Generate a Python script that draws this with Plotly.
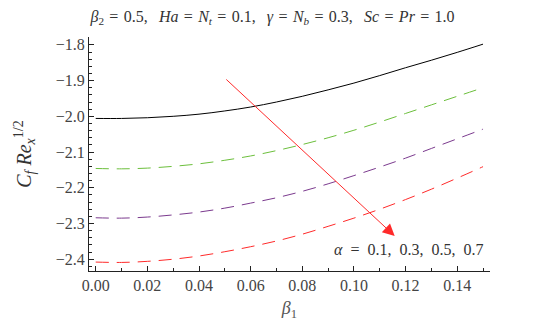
import plotly.graph_objects as go

beta1 = [0.00, 0.01, 0.02, 0.03, 0.04, 0.05, 0.06, 0.07, 0.08, 0.09, 0.10, 0.11, 0.12, 0.13, 0.14, 0.15]
cf_a01 = [-2.006, -2.006, -2.004, -2.000, -1.994, -1.985, -1.974, -1.960, -1.944, -1.926, -1.907, -1.886, -1.864, -1.843, -1.821, -1.798]
cf_a03 = [-2.146, -2.147, -2.145, -2.140, -2.133, -2.123, -2.111, -2.096, -2.079, -2.060, -2.039, -2.016, -1.992, -1.968, -1.944, -1.920]
cf_a05 = [-2.284, -2.285, -2.282, -2.276, -2.268, -2.257, -2.243, -2.228, -2.210, -2.189, -2.166, -2.142, -2.117, -2.090, -2.063, -2.036]
cf_a07 = [-2.408, -2.409, -2.406, -2.400, -2.391, -2.379, -2.365, -2.349, -2.330, -2.308, -2.285, -2.260, -2.233, -2.204, -2.173, -2.141]

series = [
    (cf_a01, "#000000", "solid"),
    (cf_a03, "#6cbf3c", "13px,8px"),
    (cf_a05, "#7b3a8e", "13px,8px"),
    (cf_a07, "#ff2a2a", "13px,8px"),
]

FONT = "Liberation Serif"
E = "\u2002"   # en space
S = "\u2004"   # three-per-em space
C = "\u2002\u2009"   # space after commas

fig = go.Figure()
for ys, col, dash in series:
    fig.add_trace(go.Scatter(x=beta1, y=ys, mode="lines",
                             line=dict(color=col, width=1, dash=dash, shape="spline"),
                             showlegend=False))

fig.add_annotation(x=0.1158, y=-2.335, ax=0.050, ay=-1.893, xref="x", yref="y",
                   axref="x", ayref="y", showarrow=True, arrowhead=2, arrowsize=2.4,
                   arrowwidth=1, arrowcolor="#ff2a2a", text="")
fig.add_annotation(x=0.1212, y=-2.374, xref="x", yref="y", showarrow=False,
                   text=f"<i>α</i>{E}={E}0.1,{E}0.3,{E}0.5,{E}0.7",
                   font=dict(family=FONT, size=16, color="#333333"))

title_txt = (f"<i>β</i><sub>2</sub>{S}={S}0.5,{C}<i>Ha</i>{S}={S}<i>N</i><sub><i>t</i></sub>{S}={S}0.1,{C}"
             f"<i>γ</i>{S}={S}<i>N</i><sub><i>b</i></sub>{S}={S}0.3,{C}<i>Sc</i>{S}={S}<i>Pr</i>{S}={S}1.0")

fig.update_layout(
    width=529, height=325,
    margin=dict(l=81, r=47, t=29, b=62),
    paper_bgcolor="white", plot_bgcolor="white",
    font=dict(family=FONT, size=16, color="#444444"),
    title=dict(text=title_txt,
               x=0.5, xanchor="center", y=0.975, yanchor="middle",
               font=dict(family=FONT, size=16, color="#333333")),
    xaxis=dict(range=[-0.0026, 0.1527], showgrid=False, zeroline=False,
               showline=True, linecolor="#222222", linewidth=1,
               ticks="inside", ticklen=5, tickcolor="#222222", dtick=0.02, tick0=0,
               tickformat=".2f", tickfont=dict(family=FONT, size=16, color="#444444"),
               minor=dict(dtick=0.01, ticks="inside", ticklen=3, tickcolor="#222222"),
               title=dict(text="<i>β</i><sub>1</sub>", standoff=8,
                          font=dict(family=FONT, size=18, color="#555555"))),
    yaxis=dict(range=[-2.433, -1.778], showgrid=False, zeroline=False,
               showline=True, linecolor="#222222", linewidth=1,
               ticks="inside", ticklen=5, tickcolor="#222222", dtick=0.1, tick0=-2.4,
               tickformat=".1f", tickfont=dict(family=FONT, size=16, color="#444444"),
               minor=dict(dtick=0.02, ticks="inside", ticklen=3, tickcolor="#222222"),
               title=dict(text="<i>C</i><sub><i>f</i></sub> <i>Re</i><sub><i>x</i></sub><sup>1/2</sup>",
                          standoff=18, font=dict(family=FONT, size=20, color="#333333"))),
)

fig.write_html("out.html")
